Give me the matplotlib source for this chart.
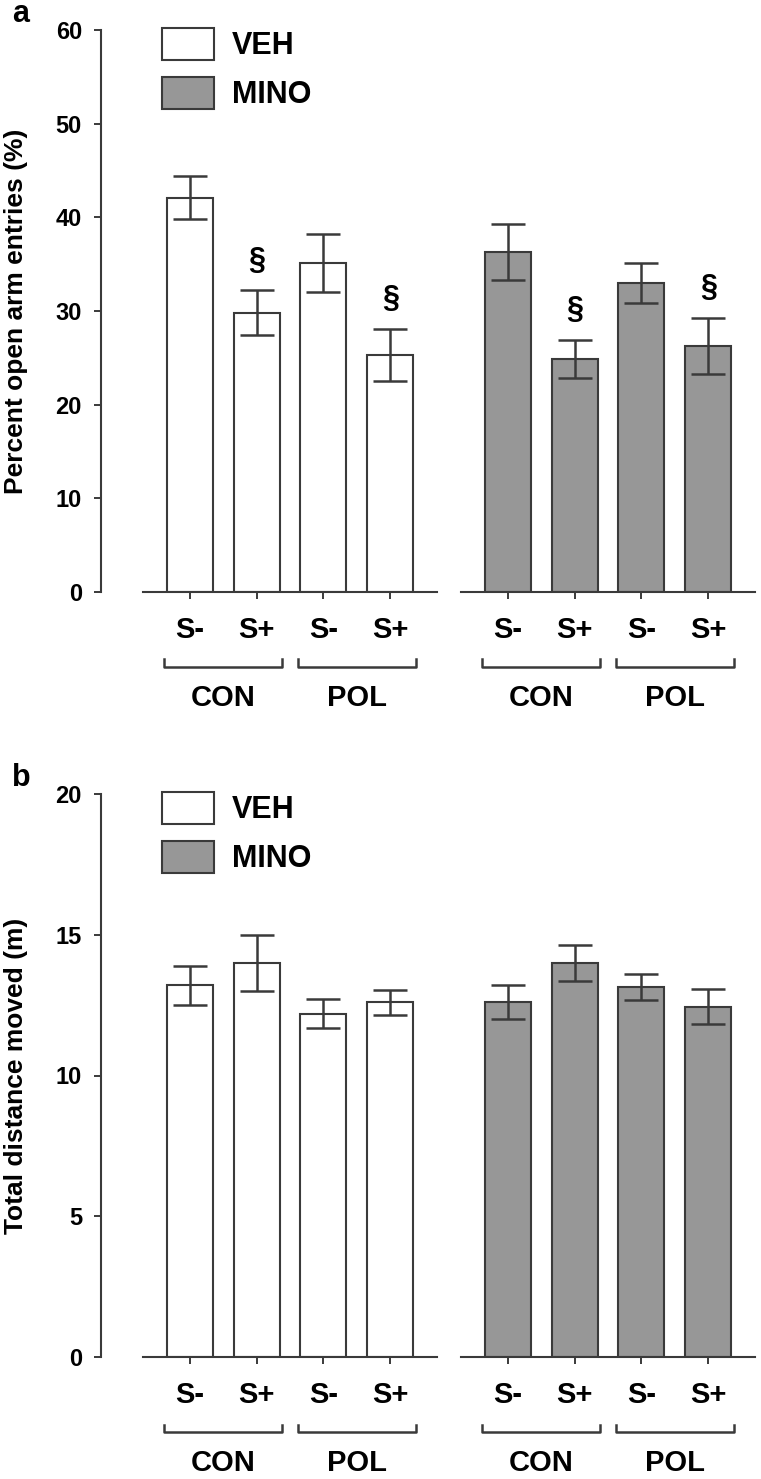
import matplotlib
matplotlib.use("Agg")
import matplotlib.pyplot as plt
from matplotlib.patches import Patch
import matplotlib.transforms as mtransforms

plt.rcParams["font.family"] = ["Liberation Sans", "DejaVu Sans"]
plt.rcParams["font.weight"] = "bold"

# ---- data ----
stress_labels = ["S-", "S+", "S-", "S+"]
group_labels = ["CON", "POL"]
treatments = ["VEH", "MINO"]

open_veh = [42.1, 29.8, 35.1, 25.3]
open_veh_err = [2.3, 2.4, 3.1, 2.8]
open_mino = [36.3, 24.9, 33.0, 26.3]
open_mino_err = [3.0, 2.0, 2.1, 3.0]
open_sig = [False, True, False, True]

dist_veh = [13.2, 14.0, 12.2, 12.6]
dist_veh_err = [0.7, 1.0, 0.5, 0.45]
dist_mino = [12.6, 14.0, 13.15, 12.45]
dist_mino_err = [0.6, 0.63, 0.46, 0.62]
dist_sig = [False, False, False, False]

EDGE = "#3a3a3a"
FILLS = {"VEH": "white", "MINO": "#979797"}
W, H = 761, 1479
BIG = 21


def rect(x0, x1, ytop, ybot):
    return [x0 / W, 1 - ybot / H, (x1 - x0) / W, (ybot - ytop) / H]


def draw_half(ax, vals, errs, sig, fill, ymax, ystep, show_y):
    x = list(range(len(vals)))
    ax.bar(x, vals, width=0.69, color=fill, edgecolor=EDGE, linewidth=1.5,
           yerr=errs, capsize=12,
           error_kw=dict(ecolor=EDGE, elinewidth=1.8, capthick=1.8))
    for xi, v, e, s in zip(x, vals, errs, sig):
        if s:
            ax.text(xi, v + e + ymax * 0.053, "\u00a7", ha="center", va="center",
                    fontsize=22, color="black")
    ax.set_xlim(-0.7, 3.7)
    ax.set_ylim(0, ymax)
    ax.spines["top"].set_visible(False)
    ax.spines["right"].set_visible(False)
    ax.spines["bottom"].set_linewidth(1.5)
    ax.spines["bottom"].set_color(EDGE)
    ax.set_xticks(x)
    ax.set_xticklabels(stress_labels, fontsize=BIG, fontweight="bold")
    ax.tick_params(axis="x", length=5, width=1.4, color=EDGE, pad=12)
    if show_y:
        ax.spines["left"].set_position(("outward", 30))
        ax.spines["left"].set_linewidth(1.5)
        ax.spines["left"].set_color(EDGE)
        ax.set_yticks(range(0, ymax + 1, ystep))
        ax.tick_params(axis="y", length=5, width=1.4, color=EDGE, pad=9,
                       labelsize=17)
        for lab in ax.get_yticklabels():
            lab.set_fontweight("bold")
    else:
        ax.spines["left"].set_visible(False)
        ax.set_yticks([])

    # group brackets below the stress labels
    trans = mtransforms.blended_transform_factory(ax.transData, ax.transAxes)
    for gi, name in enumerate(group_labels):
        c = gi * 2 + 0.5
        xs = [c - 0.88, c - 0.88, c + 0.88, c + 0.88]
        ys = [-0.120, -0.134, -0.134, -0.120]
        ax.plot(xs, ys, color=EDGE, lw=1.8, transform=trans, clip_on=False)
        ax.text(c, -0.188, name, ha="center", va="center", fontsize=BIG,
                fontweight="bold", transform=trans)


fig = plt.figure(figsize=(W / 100, H / 100), dpi=100)

panels = [
    ("a", 30, 592, open_veh, open_veh_err, open_mino, open_mino_err, open_sig,
     60, 10, "Percent open arm entries (%)"),
    ("b", 794, 1357, dist_veh, dist_veh_err, dist_mino, dist_mino_err, dist_sig,
     20, 5, "Total distance moved (m)"),
]

for letter, ytop, ybot, veh, veh_err, mino, mino_err, sig, ymax, ystep, ylabel in panels:
    ax_l = fig.add_axes(rect(143, 437, ytop, ybot))
    ax_r = fig.add_axes(rect(461, 755, ytop, ybot))
    draw_half(ax_l, veh, veh_err, sig, FILLS["VEH"], ymax, ystep, True)
    draw_half(ax_r, mino, mino_err, sig, FILLS["MINO"], ymax, ystep, False)
    ax_l.set_ylabel(ylabel, fontsize=19, fontweight="bold")
    ax_l.yaxis.set_label_coords(-0.39, 0.5)

    handles = [Patch(facecolor=FILLS[t], edgecolor=EDGE, linewidth=1.5) for t in treatments]
    leg = ax_l.legend(handles, treatments, loc="upper left",
                      bbox_to_anchor=(162 / W, 1 - (ytop - 2) / H),
                      bbox_transform=fig.transFigure, frameon=False,
                      fontsize=22, handlelength=1.7, handleheight=1.25,
                      handletextpad=0.6, labelspacing=0.5,
                      borderpad=0, borderaxespad=0)
    for t in leg.get_texts():
        t.set_fontweight("bold")

    fig.text(12 / W, 1 - (ytop - 16) / H, letter, fontsize=22,
             fontweight="bold", ha="left", va="center")

fig.savefig("out.png", dpi=100)
